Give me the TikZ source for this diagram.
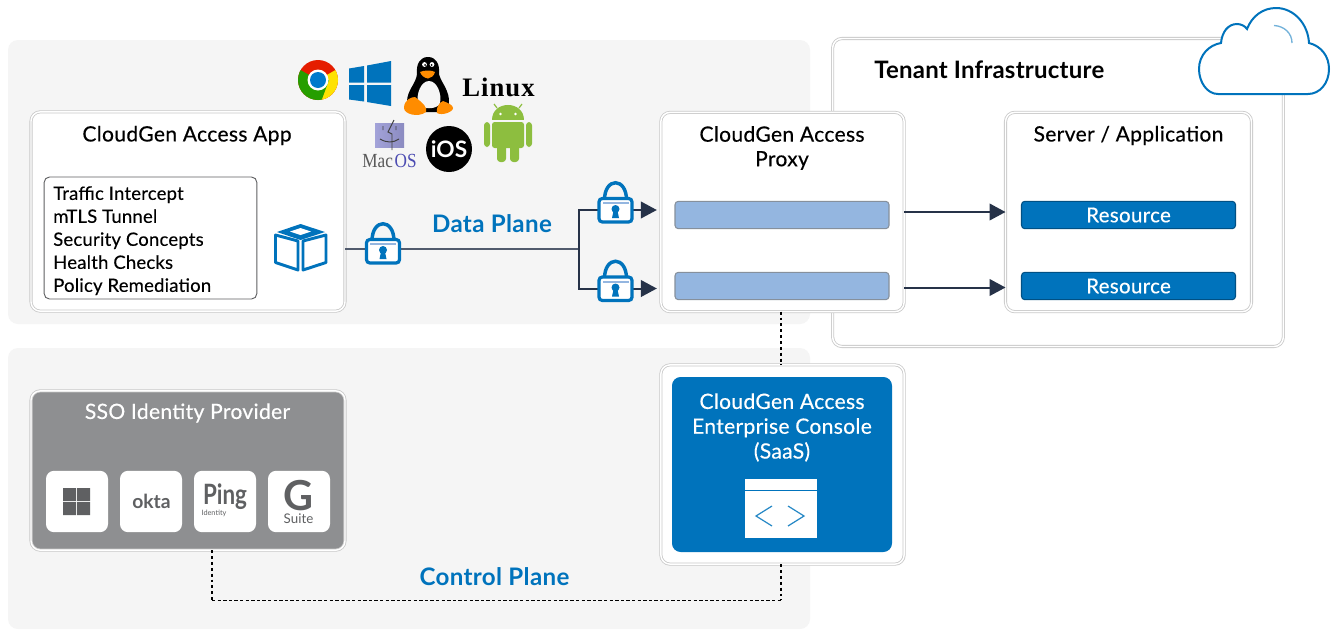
\documentclass[tikz,border=0pt]{standalone}
\usepackage{fontspec}
\setmainfont{Lato}
\newfontfamily\serifb{Liberation Serif}
\newfontfamily\medf[FakeBold=.35,LetterSpace=1.5]{Lato}
\newfontfamily\listf[FakeBold=.25,LetterSpace=1.2]{Lato}
\newfontfamily\boldf[BoldFont={Lato Bold},LetterSpace=1.5]{Lato}
\usetikzlibrary{arrows.meta}
\definecolor{panel}{HTML}{F5F5F5}
\definecolor{frameg}{HTML}{C9C9C9}
\definecolor{bblue}{HTML}{0073BC}
\definecolor{navy}{HTML}{263248}
\definecolor{barblue}{HTML}{94B6E0}
\definecolor{ssog}{HTML}{8E8F91}
\definecolor{logog}{HTML}{5F6062}
\definecolor{droid}{HTML}{8DBE3F}
\tikzset{
  framebox/.style={draw=frameg,line width=.6pt,double=white,double distance=1.1pt,fill=white,rounded corners=7pt,inner sep=0pt,outer sep=0pt},
  tbar/.style={draw=#1,line width=.8pt,rounded corners=2.5pt,inner sep=0pt,outer sep=0pt,minimum width=160.5pt,minimum height=20.5pt},
  title/.style={font=\fontsize{15.8}{18}\medf,text=black,align=center,inner sep=0pt},
  wtitle/.style={title,text=white},
  list/.style={font=\fontsize{13.85}{17.25}\listf,align=left,inner sep=0pt,anchor=north west},
  plane/.style={font=\fontsize{18.1}{20}\boldf\bfseries,text=bblue,inner sep=0pt},
  resfont/.style={fill=bblue,text=white,font=\fontsize{15.4}{17}\medf},
  wire/.style={draw=navy,line width=1.5pt},
  arrowwire/.style={wire,-{Triangle[length=12pt,width=12.5pt]}},
  dots/.style={draw=black,line width=1.1pt,dash pattern=on 2.2pt off 2.2pt},
  thindash/.style={draw=black,line width=.75pt,dash pattern=on 2.6pt off 1.6pt},
  tile/.style={fill=white,rounded corners=6pt,minimum width=46.5pt,minimum height=46pt,inner sep=0pt,outer sep=0pt},
  lockicon/.pic={
    \draw[bblue,line width=2.6pt] (-11,-10) .. controls (-11,-33) and (11,-33) .. (11,-10);
    \draw[bblue,fill=white,line width=2.4pt,rounded corners=2.5pt] (-16.5,-11.5) rectangle (16.5,12);
    \fill[barblue] (-13,-8) rectangle (13,-6);
    \fill[bblue] (0,-1) circle (4);
    \fill[bblue] (-1.8,0) -- (1.8,0) -- (3.5,8) -- (-3.5,8) -- cycle;
  }
}
\begin{document}
\begin{tikzpicture}[x=.75pt,y=-.75pt]
\useasboundingbox (0,0) rectangle (1335,629);
\fill[white] (0,0) rectangle (1335,629);
% panels
\fill[panel,rounded corners=7.5pt] (8,40) rectangle (810,324);
\fill[panel,rounded corners=7.5pt] (8,348) -- (810,348) -- (810,629) -- (8,629) -- cycle;
% tenant
\node[framebox,minimum width=338pt,minimum height=231pt] (tenant) at (1058,192.5) {};
\node[anchor=west,font=\fontsize{18}{20}\selectfont\bfseries\addfontfeatures{LetterSpace=1},inner sep=0pt] (tenantT) at (874,69.5) {Tenant Infrastructure};
% cloud
\draw[bblue,fill=white,line width=1.5pt]
  (1218,94) .. controls (1207,94) and (1199,82) .. (1199,69)
  .. controls (1199,55) and (1209,45) .. (1221,43)
  .. controls (1222,32) and (1228,24) .. (1237,24)
  .. controls (1241,24) and (1245,26) .. (1247,29)
  .. controls (1252,16) and (1263,8) .. (1276,8)
  .. controls (1294,8) and (1308,24) .. (1309,43)
  .. controls (1321,46) and (1329,56) .. (1329,69)
  .. controls (1329,83) and (1320,94) .. (1308,94) -- cycle;
\draw[bblue!55,line width=1pt] (1274,25.5) .. controls (1284,26) and (1292,33) .. (1292,43);
% main boxes
\node[framebox,minimum width=235.5pt,minimum height=149.5pt] (app) at (188,211.5) {};
\node[framebox,minimum width=182.5pt,minimum height=149.5pt] (proxy) at (782.5,212) {};
\node[framebox,minimum width=184.5pt,minimum height=149.5pt] (server) at (1128.5,212) {};
\node[framebox,minimum width=182.5pt,minimum height=149.5pt] (console) at (782.5,464.5) {};
\node[framebox,fill=ssog,minimum width=235.5pt,minimum height=119.5pt] (sso) at (188,470.5) {};
% titles
\node[title] (appT) at (187,135.5) {CloudGen Access App};
\node[title] (proxyT) at (782,148) {CloudGen Access\\[.4pt]Proxy};
\node[title] (serverT) at (1128.5,135.5) {Server / Application};
% list
\node[draw=logog,line width=.7pt,rounded corners=4pt,minimum width=159.5pt,minimum height=91.5pt,inner sep=0pt,outer sep=0pt] (listbox) at (150.5,238) {};
\node[list] (listT) at (53,186) {Traffic Intercept\\mTLS Tunnel\\Security Concepts\\Health Checks\\Policy Remediation};
% box icon
\draw[bblue,line width=2.2pt,line join=round] (275.5,235) -- (298,241) -- (298,270) -- (275.5,262.5) -- cycle;
\draw[bblue,line width=2.2pt,line join=round] (303,241) -- (326,235) -- (326,262.5) -- (303,270) -- cycle;
\fill[bblue] (277,232) -- (300.5,224) -- (325,232) -- (300.5,240) -- cycle;
\fill[white] (290,231.5) -- (300.5,228) -- (311,231.5) -- (300.5,235) -- cycle;
% bars
\node[tbar=gray!70!barblue,fill=barblue] (p1) at (782,215) {};
\node[tbar=gray!70!barblue,fill=barblue] (p2) at (782,286) {};
\node[tbar=bblue!70!black,resfont] (r1) at (1128.5,215) {Resource};
\node[tbar=bblue!70!black,resfont] (r2) at (1128.5,286) {Resource};
% connectors
\coordinate (j) at (579,249);
\coordinate (l1) at (383,251);
\coordinate (l2) at (615.5,210);
\coordinate (l3) at (615.5,288.5);
\draw[wire,draw=navy!80] (app.east |- j) -- (j);
\draw[arrowwire,shorten >=3pt] (j) |- (proxy.west |- l2);
\draw[arrowwire,shorten >=3pt] (j) |- (proxy.west |- l3);
\draw[arrowwire] (proxy.east) -- (server.west);
\draw[arrowwire] (proxy.east |- 0,287.5) -- (server.west |- 0,287.5);
\pic at (l1) {lockicon};
\pic at (l2) {lockicon};
\pic at (l3) {lockicon};
\node[plane] (dataT) at (492,224) {Data Plane};
\node[plane] (ctrlT) at (494.5,576.5) {Control Plane};
% dotted
\coordinate (c1) at (212,600);
\coordinate (c2) at (781,600);
\draw[dots] (proxy.south -| c2) -- (console.north -| c2);
\draw[dots] (sso.south -| c1) -- (c1);
\draw[thindash] (c1) -- (c2);
\draw[dots] (console.south -| c2) -- (c2);
% console
\fill[bblue,rounded corners=6.5pt] (672,377) rectangle (892,552);
\node[wtitle] (consoleT) at (782,427.5) {CloudGen Access\\[.6pt]Enterprise Console\\[.6pt](SaaS)};
\fill[white] (745,479) rectangle (817,538);
\fill[bblue] (745,489.5) rectangle (817,491);
\draw[bblue!85,line width=.9pt] (772,506) -- (756,516) -- (772,526);
\draw[bblue!85,line width=.9pt] (788,506) -- (804,516) -- (788,526);
% sso
\node[wtitle] (ssoT) at (187.5,413) {SSO Identity Provider};
\node[tile] (t1) at (77,501.5) {};
\node[tile] (t2) at (151,501.5) {};
\node[tile] (t3) at (225,501.5) {};
\node[tile] (t4) at (299,501.5) {};
\fill[logog] (63,488) rectangle (76,501) (77,488) rectangle (90,501) (63,502) rectangle (76,515) (77,502) rectangle (90,515);
\node[font=\fontsize{14.5}{16}\selectfont\bfseries,text=logog,inner sep=0pt] (okta) at (151.5,501) {okta};
\node[font=\fontsize{21}{22}\selectfont\bfseries,text=logog,inner sep=0pt] (ping) at (225,497) {\addfontfeatures{FakeStretch=.8}Ping};
\node[font=\fontsize{5.5}{6}\selectfont,text=logog,inner sep=0pt] (pingsub) at (214,513.5) {Identity};
\node[font=\fontsize{31}{31}\selectfont\bfseries,text=logog,inner sep=0pt] (gg) at (299,496) {G};
\node[font=\fontsize{10}{10}\selectfont,text=logog,inner sep=0pt] (gs) at (298.5,518.5) {Suite};
% chrome
\begin{scope}
\clip (318,80) circle (20);
\fill[red!75!orange!90!black] (290,55) rectangle (346,105);
\fill[yellow!85!orange] (318,80) -- (346,64) -- (346,110) -- (318,110) -- cycle;
\fill[green!55!black!85!yellow] (318,80) -- (290,64) -- (290,110) -- (318,110) -- (329,80) -- cycle;
\end{scope}
\fill[white] (318,80) circle (10.5);
\fill[blue!40!cyan!80!black] (318,80) circle (8);
% windows
\fill[bblue] (349,68.5) -- (364,66) -- (364,82.5) -- (349,82.5) -- cycle;
\fill[bblue] (367,65.5) -- (391,61) -- (391,82.5) -- (367,82.5) -- cycle;
\fill[bblue] (349,85) -- (364,85) -- (364,101.5) -- (349,99.5) -- cycle;
\fill[bblue] (367,85) -- (391,85) -- (391,106) -- (367,102) -- cycle;
% tux
\fill[black] (428,57) .. controls (436,57) and (440,64) .. (439,74) .. controls (441,83) and (450,90) .. (449,104) .. controls (448,110) and (444,112) .. (440,112) -- (416,112) .. controls (411,112) and (407,108) .. (407,102) .. controls (407,90) and (416,84) .. (417,74) .. controls (416,64) and (420,57) .. (428,57) -- cycle;
\fill[white!92!gray] (429,81) .. controls (437,81) and (442,94) .. (440,103) .. controls (438,110) and (420,110) .. (418,103) .. controls (416,94) and (421,81) .. (429,81) -- cycle;
\fill[orange!90!yellow] (404,108) .. controls (404,100) and (411,97) .. (415,97) .. controls (423,103) and (428,108) .. (426,112) .. controls (418,118) and (404,114) .. (404,108) -- cycle;
\fill[orange!90!yellow] (453,108) .. controls (453,105) and (448,103) .. (443,101) .. controls (438,103) and (436,109) .. (437,113) .. controls (442,116) and (453,112) .. (453,108) -- cycle;
\fill[orange!90!yellow] (420,72) .. controls (424,70) and (432,70) .. (435,72) .. controls (434,76) and (431,78) .. (428,78.5) .. controls (424,78) and (421,75) .. (420,72) -- cycle;
\fill[white] (424.5,64.5) circle (2.4) (432,64.5) circle (2.4);
\fill[black] (425,65) circle (1) (431.5,65) circle (1);
\node[font=\fontsize{20}{20}\selectfont\serifb\bfseries\addfontfeatures{LetterSpace=4},anchor=west,inner sep=0pt] (linuxT) at (462,87) {Linux};
% mac
\shade[left color=blue!25!white!85!black,right color=blue!30!gray!70] (375,123) rectangle (404,147);
\draw[black!75,line width=.7pt] (394,120) -- (388,132) -- (392,134) -- (392,150);
\draw[black!75,line width=.7pt] (383,126) -- (383,130) (396,126) -- (396,130) (380,139) .. controls (387,143) and (393,143) .. (399,139);
\node[font=\fontsize{15}{15}\selectfont\serifb\addfontfeatures{FakeStretch=.86},text=black!65,inner sep=0pt] (macT) at (389.5,161) {Mac\kern1.2pt\textcolor{blue!40!gray}{OS}};
% ios
\fill[black] (449,149) circle (23) node[font=\fontsize{17}{17}\selectfont\bfseries,text=white,inner sep=0pt] (iosT) {iOS};
% android
\fill[droid] (492,120) .. controls (492,100) and (524,100) .. (524,120) -- cycle;
\draw[droid,line width=.9pt] (497,108) -- (494,104) (519,108) -- (522,104);
\fill[white] (500.5,114) circle (1.4) (515.5,114) circle (1.4);
\fill[droid,rounded corners=2pt] (492,122) rectangle (524,148);
\fill[droid,rounded corners=2.5pt] (484,122) rectangle (490,147) (526,122) rectangle (532,147) (497,140) rectangle (506,162) (510,140) rectangle (519,162);
\end{tikzpicture}
\end{document}
